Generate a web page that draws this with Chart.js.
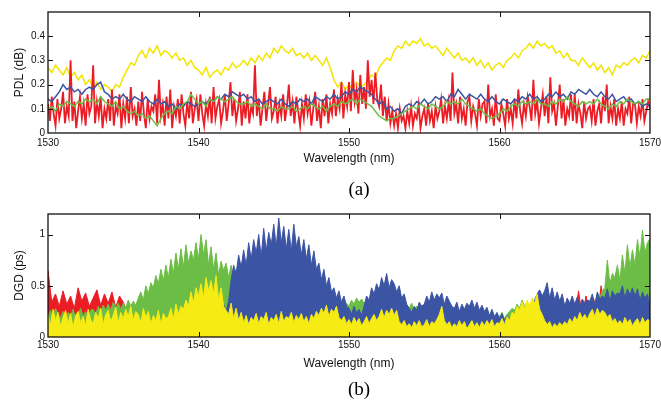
<!DOCTYPE html>
<html><head><meta charset="utf-8">
<script src="https://cdn.jsdelivr.net/npm/chart.js@4.4.1/dist/chart.umd.min.js"></script>
<style>
html,body{margin:0;padding:0;background:#fff;}
#wrap{position:relative;width:661px;height:401px;overflow:hidden;background:#fff;}
canvas{position:absolute;left:0;}
.cap{position:absolute;width:60px;left:329px;text-align:center;font-family:'Liberation Serif','Times New Roman',serif;font-size:19px;height:22px;line-height:22px;color:#000;}
</style></head><body>
<div id="wrap">
<canvas id="pdl" width="661" height="200" style="top:0"></canvas>
<canvas id="dgd" width="661" height="201" style="top:200px"></canvas>
<div class="cap" style="top:178px">(a)</div>
<div class="cap" style="top:378px">(b)</div>
</div>
<script>
// Each series is sampled evenly from 1530 nm to 1570 nm (its own number of samples)
const wavelengthStart = 1530;
const wavelengthEnd = 1570;
const wavelengthTicks = [1530, 1540, 1550, 1560, 1570];
const pdlTicks = [0, 0.1, 0.2, 0.3, 0.4];
const dgdTicks = [0, 0.5, 1];

// ---- (a) PDL (dB) ---- 4 samples per nm
const pdlYellow = [
0.27,0.25,0.28,0.26, 0.24,0.27,0.23,0.25, 0.22,0.24,0.20,0.22, 0.19,0.21,0.18,0.20,
0.19,0.17,0.20,0.19, 0.23,0.26,0.29,0.28, 0.32,0.34,0.31,0.35, 0.33,0.36,0.32,0.34,
0.33,0.31,0.33,0.30, 0.31,0.28,0.30,0.27, 0.26,0.24,0.27,0.23, 0.25,0.26,0.24,0.27,
0.26,0.29,0.27,0.28, 0.30,0.28,0.31,0.29, 0.32,0.30,0.33,0.31, 0.35,0.33,0.36,0.34,
0.33,0.35,0.32,0.33, 0.31,0.33,0.30,0.32, 0.30,0.28,0.31,0.27, 0.22,0.19,0.21,0.18,
0.20,0.18,0.21,0.19, 0.20,0.22,0.24,0.23, 0.27,0.29,0.31,0.30, 0.34,0.36,0.35,0.38,
0.36,0.38,0.37,0.39, 0.36,0.37,0.35,0.36, 0.34,0.32,0.35,0.33, 0.31,0.33,0.30,0.31,
0.29,0.31,0.28,0.30, 0.27,0.29,0.26,0.28, 0.29,0.27,0.30,0.31, 0.33,0.31,0.34,0.35,
0.37,0.35,0.38,0.36, 0.37,0.35,0.36,0.33, 0.34,0.31,0.33,0.30, 0.30,0.28,0.31,0.29,
0.27,0.29,0.26,0.28, 0.25,0.27,0.24,0.28, 0.27,0.29,0.28,0.30, 0.31,0.29,0.32,0.31,
0.34];
// 8 samples per nm
const pdlRed = [
.12,.05,.15,.08,.03,.14,.06,.10, .17,.04,.11,.07,.30,.05,.13,.02, .09,.15,.06,.12,.03,.16,.08,.11,
.28,.04,.13,.07,.15,.02,.10,.06, .14,.05,.18,.03,.11,.08,.16,.02, .12,.06,.15,.04,.19,.07,.10,.03,
.13,.05,.17,.08,.02,.14,.06,.11, .09,.16,.04,.22,.07,.12,.03,.15, .06,.18,.02,.11,.07,.14,.04,.16,
.08,.03,.13,.06,.17,.04,.10,.14, .05,.16,.08,.03,.12,.07,.15,.04, .19,.06,.11,.14,.04,.09,.16,.05,
.12,.21,.07,.14,.05,.10,.17,.03, .13,.06,.16,.04,.11,.08,.28,.07, .14,.03,.10,.17,.05,.12,.19,.06,
.09,.15,.04,.12,.07,.16,.05,.11, .20,.07,.13,.04,.15,.09,.03,.12, .06,.16,.08,.13,.03,.10,.17,.05,
.11,.02,.14,.07,.16,.04,.12,.08, .18,.07,.14,.10,.21,.06,.16,.11, .21,.09,.26,.13,.18,.08,.24,.12,
.19,.10,.30,.15,.22,.12,.25,.14, .11,.20,.07,.15,.05,.12,.04,.09, .03,.08,.02,.10,.05,.07,.02,.09,
.04,.11,.03,.08,.06,.12,.02,.07, .10,.03,.12,.05,.09,.02,.11,.06, .09,.14,.04,.11,.06,.13,.05,.25,
.08,.12,.04,.15,.06,.10,.03,.13, .15,.05,.11,.08,.03,.14,.07,.12, .13,.04,.20,.07,.10,.03,.16,.06,
.05,.12,.08,.03,.14,.06,.10,.04, .14,.06,.18,.09,.04,.12,.07,.15, .11,.05,.22,.08,.13,.04,.10,.16,
.07,.15,.04,.23,.09,.12,.03,.11, .20,.06,.14,.03,.10,.07,.16,.05, .16,.04,.12,.08,.02,.13,.06,.10,
.11,.05,.14,.03,.09,.12,.04,.15, .09,.20,.04,.11,.06,.14,.03,.10, .06,.13,.03,.10,.08,.15,.04,.12,
.12,.04,.11,.07,.14,.05,.09,.13,
.10];
// 4 samples per nm
const pdlBlue = [
0.14,0.13,0.15,0.17, 0.20,0.18,0.19,0.17, 0.18,0.16,0.18,0.19, 0.18,0.20,0.21,0.17,
0.16,0.14,0.15,0.14, 0.16,0.14,0.13,0.15, 0.14,0.13,0.15,0.13, 0.12,0.14,0.12,0.13,
0.11,0.12,0.10,0.12, 0.11,0.13,0.12,0.11, 0.12,0.13,0.12,0.14, 0.13,0.15,0.14,0.16,
0.15,0.17,0.16,0.15, 0.16,0.14,0.15,0.13, 0.14,0.12,0.13,0.14, 0.13,0.12,0.14,0.12,
0.11,0.13,0.12,0.14, 0.13,0.14,0.12,0.15, 0.14,0.13,0.15,0.14, 0.16,0.14,0.15,0.17,
0.16,0.18,0.17,0.19, 0.18,0.17,0.16,0.14, 0.12,0.13,0.10,0.11, 0.09,0.10,0.08,0.11,
0.12,0.11,0.13,0.12, 0.14,0.12,0.13,0.15, 0.14,0.15,0.13,0.16, 0.15,0.18,0.16,0.14,
0.16,0.15,0.14,0.16, 0.14,0.13,0.15,0.13, 0.12,0.14,0.13,0.12, 0.14,0.13,0.15,0.14,
0.16,0.14,0.15,0.13, 0.14,0.16,0.15,0.17, 0.15,0.16,0.14,0.17, 0.16,0.18,0.17,0.16,
0.18,0.16,0.15,0.17, 0.15,0.14,0.16,0.13, 0.14,0.15,0.13,0.14, 0.12,0.13,0.11,0.12,
0.11];
const pdlGreen = [
0.10,0.11,0.09,0.12, 0.11,0.13,0.12,0.11, 0.13,0.12,0.14,0.13, 0.14,0.12,0.15,0.13,
0.12,0.11,0.13,0.10, 0.11,0.09,0.08,0.09, 0.07,0.08,0.06,0.07, 0.05,0.03,0.06,0.08,
0.09,0.08,0.11,0.10, 0.12,0.13,0.16,0.14, 0.12,0.13,0.11,0.14, 0.13,0.15,0.14,0.13,
0.14,0.15,0.13,0.12, 0.12,0.13,0.11,0.12, 0.11,0.10,0.12,0.10, 0.10,0.09,0.11,0.10,
0.10,0.11,0.09,0.10, 0.11,0.10,0.12,0.11, 0.10,0.11,0.09,0.11, 0.12,0.11,0.13,0.12,
0.13,0.14,0.12,0.14, 0.13,0.12,0.11,0.09, 0.07,0.06,0.05,0.06, 0.06,0.07,0.08,0.09,
0.10,0.11,0.10,0.12, 0.11,0.10,0.12,0.11, 0.10,0.11,0.13,0.12, 0.13,0.12,0.14,0.12,
0.11,0.10,0.09,0.10, 0.08,0.07,0.06,0.07, 0.08,0.10,0.09,0.11, 0.12,0.11,0.13,0.12,
0.13,0.12,0.14,0.12, 0.12,0.11,0.13,0.12, 0.14,0.13,0.15,0.13, 0.12,0.11,0.13,0.12,
0.13,0.12,0.14,0.12, 0.11,0.10,0.12,0.11, 0.13,0.12,0.14,0.13, 0.12,0.13,0.12,0.14,
0.14];

// ---- (b) DGD (ps) ----
// 4 samples per nm
const dgdRed = [
0.65,0.34,0.42,0.30, 0.45,0.32,0.40,0.28, 0.48,0.35,0.43,0.30, 0.38,0.46,0.31,0.42,
0.33,0.44,0.29,0.40, 0.34,0.25,0.12,0.06, 0.05,0.03,0.07,0.04, 0.06,0.02,0.05,0.08,
0.03,0.06,0.04,0.07, 0.05,0.09,0.03,0.06, 0.08,0.04,0.10,0.05, 0.07,0.03,0.09,0.04,
0.06,0.08,0.03,0.05, 0.04,0.07,0.02,0.06, 0.05,0.03,0.06,0.04, 0.03,0.05,0.02,0.06,
0.04,0.07,0.03,0.05, 0.06,0.02,0.05,0.03, 0.04,0.06,0.03,0.07, 0.05,0.03,0.08,0.04,
0.06,0.04,0.07,0.03, 0.05,0.08,0.04,0.06, 0.03,0.07,0.05,0.09, 0.04,0.06,0.03,0.05,
0.07,0.04,0.06,0.03, 0.05,0.08,0.04,0.06, 0.03,0.05,0.07,0.04, 0.06,0.03,0.09,0.05,
0.04,0.07,0.03,0.06, 0.05,0.04,0.08,0.05, 0.06,0.03,0.07,0.04, 0.05,0.09,0.04,0.06,
0.07,0.04,0.06,0.10, 0.06,0.12,0.08,0.15, 0.10,0.20,0.12,0.25, 0.15,0.45,0.20,0.40,
0.22,0.38,0.18,0.50, 0.25,0.55,0.30,0.62, 0.28,0.45,0.20,0.35, 0.15,0.25,0.10,0.20,
0.10];
// 6 samples per nm
const dgdGreen = [
.20,.26,.17,.28,.22,.19, .25,.18,.24,.21,.27,.19, .22,.28,.20,.25,.18,.26, .27,.22,.30,.24,.31,.26,
.32,.26,.34,.28,.33,.27, .33,.28,.36,.30,.35,.31, .38,.44,.36,.50,.42,.53, .48,.60,.52,.66,.55,.70,
.58,.76,.62,.82,.66,.86, .68,.90,.72,.84,.75,.92, .76,1.00,.80,.95,.70,.88, .66,.82,.60,.74,.65,.72,
.58,.70,.52,.62,.48,.55, .45,.52,.40,.50,.44,.48, .42,.48,.38,.46,.41,.45, .40,.45,.36,.42,.39,.44,
.38,.44,.35,.40,.37,.42, .36,.42,.33,.38,.35,.40, .32,.38,.30,.35,.31,.36, .28,.34,.26,.30,.29,.33,
.30,.36,.32,.38,.34,.37, .33,.36,.28,.25,.23,.27, .22,.27,.20,.25,.21,.24, .22,.26,.20,.24,.27,.31,
.28,.33,.26,.30,.24,.27, .22,.26,.20,.24,.21,.25, .24,.28,.22,.27,.23,.26, .25,.30,.23,.28,.26,.29,
.22,.26,.20,.25,.21,.24, .18,.23,.16,.20,.17,.21, .20,.24,.18,.22,.25,.28, .26,.32,.28,.36,.30,.34,
.30,.34,.25,.28,.26,.30, .30,.36,.32,.40,.35,.38, .34,.39,.30,.36,.32,.35, .28,.32,.26,.30,.27,.31,
.30,.36,.32,.42,.38,.45, .48,.75,.52,.62,.58,.70, .55,.80,.62,.90,.68,.85, .70,.95,.78,1.04,.82,.92,
.96];
const dgdBlue = [
.07,.15,.05,.18,.09,.06, .11,.04,.13,.07,.05,.10, .06,.12,.04,.09,.06,.11, .07,.05,.10,.06,.12,.04,
.09,.06,.12,.05,.08,.11, .06,.10,.05,.13,.07,.09, .05,.11,.07,.04,.09,.06, .10,.05,.08,.12,.06,.09,
.07,.11,.05,.10,.13,.08, .12,.07,.15,.10,.18,.12, .20,.14,.26,.18,.24,.16, .22,.18,.28,.20,.32,.25,
.35,.55,.70,.62,.80,.68, .85,.70,.92,.76,.95,.82, 1.00,.78,1.06,.84,1.02,.90, 1.10,.88,1.16,.92,1.08,.86,
1.05,.84,1.10,.88,.98,.80, .95,.76,.90,.70,.84,.66, .72,.56,.66,.50,.58,.44, .48,.38,.45,.34,.40,.30,
.28,.22,.30,.24,.27,.21, .30,.40,.36,.48,.42,.52, .46,.58,.50,.62,.48,.56, .52,.44,.50,.38,.42,.32,
.28,.24,.30,.26,.34,.30, .32,.40,.34,.44,.36,.42, .38,.43,.32,.40,.35,.30, .28,.34,.25,.32,.27,.33,
.30,.36,.28,.34,.26,.31, .25,.29,.21,.27,.20,.24, .18,.23,.16,.21,.17,.22, .20,.15,.22,.17,.20,.24,
.26,.32,.36,.42,.46,.40, .45,.53,.38,.48,.36,.44, .35,.42,.30,.38,.33,.40, .32,.39,.29,.37,.33,.36,
.35,.42,.31,.44,.37,.40, .38,.47,.35,.45,.40,.43, .42,.50,.38,.47,.41,.48, .40,.47,.36,.44,.38,.42,
.30];
const dgdYellow = [
.22,.12,.27,.16,.24,.10, .19,.26,.13,.23,.09,.21, .25,.14,.20,.11,.27,.17, .13,.24,.18,.28,.12,.22,
.26,.15,.21,.29,.14,.24, .18,.27,.20,.30,.16,.25, .22,.14,.28,.19,.25,.13, .21,.16,.26,.12,.23,.18,
.20,.28,.17,.32,.22,.30, .27,.36,.30,.44,.33,.48, .40,.52,.38,.58,.45,.55, .42,.60,.36,.48,.30,.26,
.22,.33,.18,.28,.16,.24, .14,.21,.12,.19,.16,.23, .13,.20,.17,.24,.12,.19, .16,.22,.13,.25,.15,.20,
.18,.24,.14,.21,.17,.23, .15,.20,.13,.22,.18,.25, .21,.28,.23,.31,.20,.27, .24,.30,.19,.16,.20,.13,
.17,.12,.19,.14,.18,.11, .15,.20,.13,.18,.22,.16, .20,.27,.19,.26,.22,.28, .21,.26,.15,.12,.16,.10,
.13,.09,.15,.11,.16,.10, .12,.17,.10,.15,.13,.17, .22,.30,.16,.12,.15,.09, .13,.10,.16,.11,.15,.08,
.12,.16,.10,.14,.09,.15, .11,.16,.12,.17,.10,.14, .13,.18,.12,.20,.16,.24, .22,.30,.26,.34,.28,.36,
.30,.38,.33,.42,.27,.22, .16,.12,.15,.09,.13,.10, .14,.11,.15,.12,.18,.14, .20,.16,.24,.18,.22,.17,
.23,.27,.20,.28,.22,.26, .24,.19,.22,.15,.18,.13, .16,.12,.19,.14,.17,.11, .15,.18,.12,.19,.14,.17,
.16];

const COLORS = { red:'#EC1C24', yellowLine:'#F2E500', yellowFill:'#F6EB12', green:'#6CBD45', blue:'#3B54A3' };
const FONT = "'Liberation Sans', Arial, Helvetica, sans-serif";

function toPoints(values) {
  const step = (wavelengthEnd - wavelengthStart) / (values.length - 1);
  return values.map((v, i) => ({ x: wavelengthStart + i * step, y: v }));
}

const framePlugin = {
  id: 'frame',
  afterDatasetsDraw(chart) {
    const { ctx, chartArea: { left, right, top, bottom }, scales: { x, y } } = chart;
    ctx.save();
    ctx.strokeStyle = '#111';
    ctx.lineWidth = 1.3;
    ctx.strokeRect(left, top, right - left, bottom - top);
    ctx.lineWidth = 1;
    ctx.beginPath();
    x.ticks.forEach(t => {
      const px = Math.round(x.getPixelForValue(t.value)) + 0.5;
      if (px <= left + 2 || px >= right - 2) return;
      ctx.moveTo(px, top); ctx.lineTo(px, top + 5);
      ctx.moveTo(px, bottom); ctx.lineTo(px, bottom - 5);
    });
    y.ticks.forEach(t => {
      const py = Math.round(y.getPixelForValue(t.value)) + 0.5;
      if (py <= top + 2 || py >= bottom - 2) return;
      ctx.moveTo(left, py); ctx.lineTo(left + 5, py);
      ctx.moveTo(right, py); ctx.lineTo(right - 5, py);
    });
    ctx.stroke();
    ctx.restore();
  }
};

function makeChart(id, datasets, cfg) {
  return new Chart(document.getElementById(id), {
    type: 'line',
    data: { datasets },
    plugins: [framePlugin],
    options: {
      responsive: false, animation: false, events: [],
      layout: { padding: { top: cfg.padTop, right: 11, bottom: cfg.padBottom, left: 0 } },
      plugins: { legend: { display: false }, tooltip: { enabled: false } },
      elements: { point: { radius: 0 }, line: { tension: 0 } },
      scales: {
        x: {
          type: 'linear', position: 'bottom', min: 1530, max: 1570,
          grid: { display: false, drawTicks: false }, border: { display: false },
          afterBuildTicks: s => { s.ticks = wavelengthTicks.map(v => ({ value: v })); },
          afterFit: s => { s.height = cfg.xHeight; s.paddingLeft = 0; s.paddingRight = 0; },
          ticks: { padding: cfg.xTickPad, maxRotation: 0, autoSkip: false, color: '#111',
                   font: { family: FONT, size: 10 }, callback: v => String(v) },
          title: { display: true, text: 'Wavelength (nm)', color: '#111',
                   font: { family: FONT, size: 12 }, padding: { top: 0, bottom: 0 } }
        },
        y: {
          type: 'linear', position: 'left', min: 0, max: cfg.yMax,
          grid: { display: false, drawTicks: false }, border: { display: false },
          afterBuildTicks: s => { s.ticks = cfg.yTicks.map(v => ({ value: v })); },
          afterFit: s => { s.width = 48; s.paddingTop = 0; s.paddingBottom = 0; },
          ticks: { padding: 3, color: '#111', font: { family: FONT, size: 10 }, callback: v => String(v) },
          title: { display: true, text: cfg.yTitle, color: '#111',
                   font: { family: FONT, size: 12 }, padding: { top: 12, bottom: 0 } }
        }
      }
    }
  });
}

makeChart('pdl', [
  { data: toPoints(pdlGreen),  borderColor: COLORS.green,  borderWidth: 1.5, fill: false, order: 0 },
  { data: toPoints(pdlBlue),   borderColor: COLORS.blue,   borderWidth: 1.5, fill: false, order: 1 },
  { data: toPoints(pdlRed),    borderColor: COLORS.red,    borderWidth: 1.8, fill: false, order: 2 },
  { data: toPoints(pdlYellow), borderColor: COLORS.yellowLine, borderWidth: 1.5, fill: false, order: 3 }
], { padTop: 12, padBottom: 34, xHeight: 33, xTickPad: 4, yMax: 0.5, yTicks: pdlTicks, yTitle: 'PDL (dB)' });

makeChart('dgd', [
  { data: toPoints(dgdYellow), borderColor: COLORS.yellowFill, backgroundColor: COLORS.yellowFill, borderWidth: 1, fill: 'origin', order: 0 },
  { data: toPoints(dgdBlue),   borderColor: COLORS.blue,   backgroundColor: COLORS.blue,   borderWidth: 1, fill: 'origin', order: 1 },
  { data: toPoints(dgdGreen),  borderColor: COLORS.green,  backgroundColor: COLORS.green,  borderWidth: 1, fill: 'origin', order: 2 },
  { data: toPoints(dgdRed),    borderColor: COLORS.red,    backgroundColor: COLORS.red,    borderWidth: 1, fill: 'origin', order: 3 }
], { padTop: 14, padBottom: 30, xHeight: 34, xTickPad: 2, yMax: 1.2, yTicks: dgdTicks, yTitle: 'DGD (ps)' });
</script>
</body></html>
